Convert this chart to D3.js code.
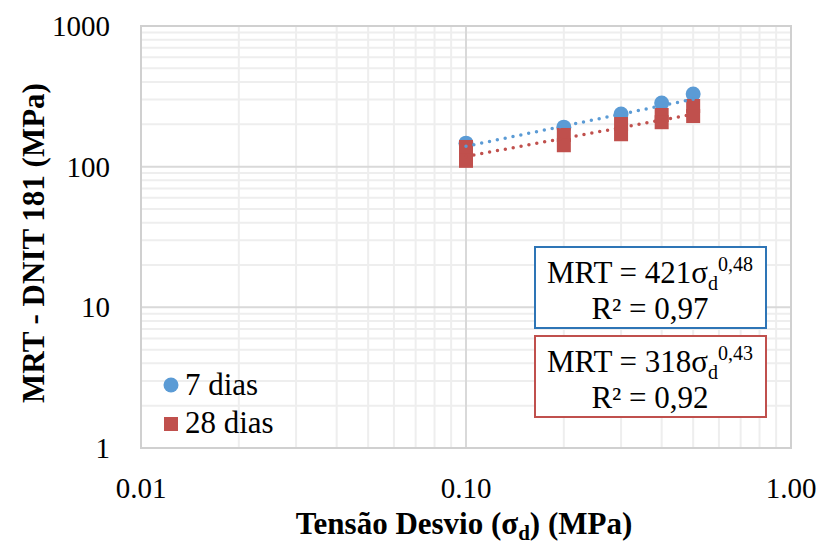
<!DOCTYPE html>
<html>
<head>
<meta charset="utf-8">
<script src="https://cdn.jsdelivr.net/npm/d3@7"></script>
<style>
  body { margin: 0; background: #fff; }
</style>
</head>
<body>
<div id="main"></div>
<script>
// data
var stress = [0.1, 0.2, 0.3, 0.4, 0.5];
var mrt7 = [147, 191, 237, 283, 328];
var mrt28a = [138, 168, 201, 233, 270];
var mrt28b = [110, 142, 170, 207, 229];
var xTicks = [0.01, 0.1, 1];
var yTicks = [1, 10, 100, 1000];
// trendline coefficients from the labels
var fit7 = { a: 421, b: 0.48, r2: "0,97" };
var fit28 = { a: 318, b: 0.43, r2: "0,92" };

var blue = "#5B9BD5", red = "#C0504D";
var serif = "'Liberation Serif', 'Times New Roman', Times, serif";

var svg = d3.select("#main").append("svg")
	.attr("width", 822)
	.attr("height", 546);

var pLeft = 141, pRight = 791, pTop = 26, pBottom = 448;

var x = d3.scaleLog().domain([0.01, 1]).range([pLeft, pRight]);
var y = d3.scaleLog().domain([1, 1000]).range([pBottom, pTop]);

// helper so every text gets the serif face
function txt(sel) {
	return sel.append("text").attr("font-family", serif).attr("fill", "#000");
}

// minor grid
var minorX = [], minorY = [];
[0.01, 0.1].forEach(function(d) { for (var k = 2; k <= 9; k++) minorX.push(d * k); });
[1, 10, 100].forEach(function(d) { for (var k = 2; k <= 9; k++) minorY.push(d * k); });

svg.selectAll(".minx").data(minorX).enter().append("line")
	.attr("x1", d => x(d)).attr("x2", d => x(d))
	.attr("y1", pTop).attr("y2", pBottom)
	.style("stroke", "#eeeeee").style("stroke-width", 2);
svg.selectAll(".miny").data(minorY).enter().append("line")
	.attr("y1", d => y(d)).attr("y2", d => y(d))
	.attr("x1", pLeft).attr("x2", pRight)
	.style("stroke", "#eeeeee").style("stroke-width", 2);

// major grid
svg.selectAll(".majx").data(xTicks).enter().append("line")
	.attr("x1", d => x(d)).attr("x2", d => x(d))
	.attr("y1", pTop).attr("y2", pBottom)
	.style("stroke", "#d9d9d9").style("stroke-width", 2);
svg.selectAll(".majy").data(yTicks).enter().append("line")
	.attr("y1", d => y(d)).attr("y2", d => y(d))
	.attr("x1", pLeft).attr("x2", pRight)
	.style("stroke", "#d9d9d9").style("stroke-width", 2);

// plot border
svg.append("rect")
	.attr("x", pLeft).attr("y", pTop)
	.attr("width", pRight - pLeft).attr("height", pBottom - pTop)
	.style("fill", "none").style("stroke", "#d0d0d0").style("stroke-width", 2);

// tick labels
svg.selectAll(".xt").data(xTicks).enter().append("text")
	.attr("font-family", serif)
	.attr("x", d => x(d)).attr("y", 498)
	.attr("text-anchor", "middle")
	.style("font-size", "29px")
	.text(d => d3.format(".2f")(d));
svg.selectAll(".yt").data(yTicks).enter().append("text")
	.attr("font-family", serif)
	.attr("x", 110).attr("y", d => y(d) + 10)
	.attr("text-anchor", "end")
	.style("font-size", "29px")
	.text(d => d);

// axis titles
var xt = txt(svg)
	.attr("x", 464).attr("y", 534)
	.attr("text-anchor", "middle")
	.style("font-size", "31px").style("font-weight", "bold");
xt.append("tspan").text("Tensão Desvio (σ");
xt.append("tspan").attr("dy", 6).style("font-size", "21px").text("d");
xt.append("tspan").attr("dy", -6).text(") (MPa)");

txt(svg)
	.attr("transform", "translate(44,243) rotate(-90)")
	.attr("text-anchor", "middle")
	.style("font-size", "31px").style("font-weight", "bold")
	.text("MRT - DNIT 181 (MPa)");

// markers
svg.selectAll(".p7").data(stress).enter().append("circle")
	.attr("cx", d => x(d)).attr("cy", (d, i) => y(mrt7[i]))
	.attr("r", 7.5).style("fill", blue);

var pts28 = stress.map((d, i) => [d, mrt28a[i]]).concat(stress.map((d, i) => [d, mrt28b[i]]));
svg.selectAll(".p28").data(pts28).enter().append("rect")
	.attr("x", d => x(d[0]) - 7).attr("y", d => y(d[1]) - 7)
	.attr("width", 14).attr("height", 14)
	.style("fill", red);

// power trendlines
function trend(fit, color) {
	var xs = d3.range(0, 41).map(i => 0.1 * Math.pow(5, i / 40));
	svg.append("path")
		.datum(xs)
		.attr("d", d3.line().x(d => x(d)).y(d => y(fit.a * Math.pow(d, fit.b))))
		.style("fill", "none").style("stroke", color)
		.style("stroke-width", 3.5).style("stroke-linecap", "round")
		.style("stroke-dasharray", "0 8");
}
trend(fit7, blue);
trend(fit28, red);

// equation boxes
function eqBox(fit, color, y0) {
	svg.append("rect")
		.attr("x", 535).attr("y", y0)
		.attr("width", 231).attr("height", 81)
		.style("fill", "#fff").style("stroke", color).style("stroke-width", 2);
	var t = txt(svg)
		.attr("x", 650).attr("y", y0 + 36)
		.attr("text-anchor", "middle")
		.style("font-size", "31px");
	t.append("tspan").text("MRT = " + fit.a + "σ");
	t.append("tspan").attr("dy", 7).style("font-size", "20px").text("d");
	t.append("tspan").attr("dy", -19).style("font-size", "20px").text(String(fit.b).replace(".", ","));
	txt(svg)
		.attr("x", 650).attr("y", y0 + 72)
		.attr("text-anchor", "middle")
		.style("font-size", "31px")
		.text("R² = " + fit.r2);
}
eqBox(fit7, "#2E75B6", 247);
eqBox(fit28, red, 336);

// legend
svg.append("circle").attr("cx", 171).attr("cy", 385).attr("r", 7.5).style("fill", blue);
txt(svg).attr("x", 185).attr("y", 395).style("font-size", "31px").text("7 dias");
svg.append("rect").attr("x", 164).attr("y", 417).attr("width", 14).attr("height", 14).style("fill", red);
txt(svg).attr("x", 185).attr("y", 433).style("font-size", "31px").text("28 dias");
</script>
</body>
</html>
